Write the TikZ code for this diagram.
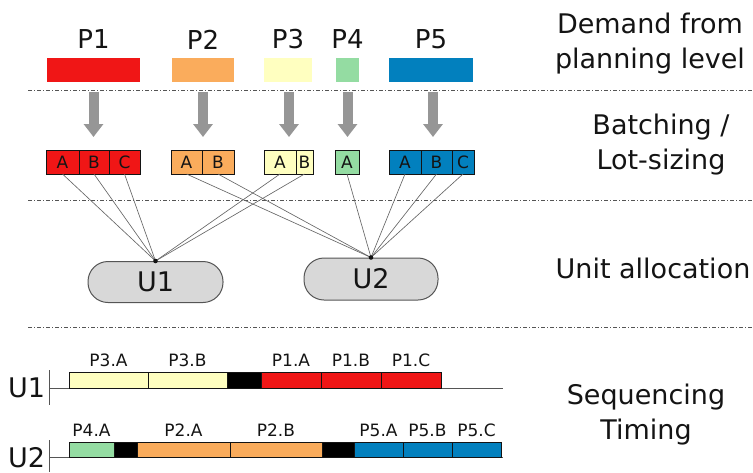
\documentclass[tikz,border=0pt]{standalone}
\usepackage{fontspec}
\setmainfont{DejaVu Sans}
\usetikzlibrary{arrows.meta,calc}

\definecolor{cPone}{RGB}{240,22,22}
\definecolor{cPtwo}{RGB}{250,172,92}
\definecolor{cPthree}{RGB}{255,255,192}
\definecolor{cPfour}{RGB}{148,220,162}
\definecolor{cPfive}{RGB}{2,128,190}
\definecolor{arrowgray}{RGB}{150,150,150}
\definecolor{unitfill}{RGB}{216,216,216}
\definecolor{edgegray}{RGB}{85,85,85}
\definecolor{inkdark}{RGB}{20,20,20}

\tikzset{
  demand/.style={rectangle, inner sep=0pt, outer sep=0pt, minimum height=24pt},
  plabel/.style={inner sep=0pt, text=inkdark, font=\fontsize{26}{26}\selectfont},
  cell/.style={rectangle, draw=inkdark, line width=0.8pt, inner sep=0pt, outer sep=0pt,
    minimum height=24pt, anchor=west, text=inkdark, font=\fontsize{17}{17}\selectfont},
  bigarrow/.style={draw=arrowgray, line width=10pt, -{Triangle[width=19pt,length=13pt]},
    shorten <=10pt, shorten >=13pt},
  separator/.style={draw=edgegray, line width=0.8pt, dash pattern=on 4pt off 2pt on 1pt off 2pt},
  link/.style={draw=edgegray!90, line width=0.65pt},
  unit/.style={rectangle, rounded corners=20pt, draw=edgegray, line width=1pt, fill=unitfill,
    minimum width=135pt, minimum height=41pt, inner sep=0pt, text=inkdark,
    font=\fontsize{27}{27}\selectfont},
  sidelabel/.style={align=center, text=inkdark, inner sep=0pt,
    font=\fontsize{27}{35}\selectfont},
  gbar/.style={rectangle, draw=inkdark, line width=0.7pt, inner sep=0pt, outer sep=0pt,
    anchor=west},
  glabel/.style={inner sep=0pt, text=inkdark, font=\fontsize{17}{17}\selectfont},
  unitname/.style={inner sep=0pt, text=inkdark, font=\fontsize{27}{27}\selectfont},
  axis/.style={draw=edgegray, line width=0.9pt}
}

\begin{document}
\begin{tikzpicture}[x=1pt,y=-1pt]
\useasboundingbox (0,0) rectangle (753,472);

% ---- demand from the planning level ----
\node[demand, fill=cPone,   minimum width=93pt] (d1) at (93.5,70) {};
\node[demand, fill=cPtwo,   minimum width=62pt] (d2) at (203,70) {};
\node[demand, fill=cPthree, minimum width=48pt] (d3) at (288,70) {};
\node[demand, fill=cPfour,  minimum width=23pt] (d4) at (347.5,70) {};
\node[demand, fill=cPfive,  minimum width=84pt] (d5) at (431,70) {};

\node[plabel] (p1) at ([yshift=18.5pt]d1.north) {P1};
\node[plabel] (p2) at ([yshift=18.5pt]d2.north) {P2};
\node[plabel] (p3) at ([yshift=18.5pt]d3.north) {P3};
\node[plabel] (p4) at ([yshift=18.5pt]d4.north) {P4};
\node[plabel] (p5) at ([yshift=18.5pt]d5.north) {P5};

% ---- section separators ----
\draw[separator] (28,90) -- (753,90);
\draw[separator] (28,200) -- (753,200);
\draw[separator] (28,327) -- (753,327);

% ---- batches ----
\node[cell, fill=cPone, minimum width=33pt] (b1a) at (46,162) {A};
\node[cell, fill=cPone, minimum width=30pt] (b1b) at (b1a.east) {B};
\node[cell, fill=cPone, minimum width=31pt] (b1c) at (b1b.east) {C};

\node[cell, fill=cPtwo, minimum width=31pt] (b2a) at (171,162) {A};
\node[cell, fill=cPtwo, minimum width=32pt] (b2b) at (b2a.east) {B};

\node[cell, fill=cPthree, minimum width=32pt] (b3a) at (264,162) {A};
\node[cell, fill=cPthree, minimum width=17pt] (b3b) at (b3a.east) {B};

\node[cell, fill=cPfour, minimum width=24pt] (b4a) at (335,162) {A};

\node[cell, fill=cPfive, minimum width=32pt] (b5a) at (389,162) {A};
\node[cell, fill=cPfive, minimum width=31pt] (b5b) at (b5a.east) {B};
\node[cell, fill=cPfive, minimum width=22pt] (b5c) at (b5b.east) {C};

% ---- batching arrows ----
\draw[bigarrow] (d1.south) -- (d1.south |- b1b.north);
\draw[bigarrow] (d2.south) -- (d2.south |- b2a.north);
\draw[bigarrow] ([xshift=1pt]d3.south) -- ([xshift=1pt]d3.south |- b3a.north);
\draw[bigarrow] (d4.south) -- (d4.south |- b4a.north);
\draw[bigarrow] ([xshift=2pt]d5.south) -- ([xshift=2pt]d5.south |- b5b.north);

% ---- units ----
\node[unit] (u1) at (155.5,282) {U1};
\node[unit, minimum width=134pt, minimum height=42pt] (u2) at (371,279) {U2};

% ---- allocation links ----
\foreach \b in {b1a,b1b,b1c,b3a,b3b}
  \draw[link] (\b.south) -- (u1.north);
\foreach \b in {b2a,b2b,b4a,b5a,b5b,b5c}
  \draw[link] (\b.south) -- (u2.north);
\fill[inkdark] (u1.north) circle (2.3pt);
\fill[inkdark] (u2.north) circle (2.3pt);

% ---- side captions ----
\node[sidelabel] (capA) at (650,44) {Demand from\\planning level};
\node[sidelabel] (capB) at (661,145) {Batching /\\Lot-sizing};
\node[sidelabel] (capC) at (653,268) {Unit allocation};
\node[sidelabel] (capD) at (646,415) {Sequencing\\Timing};

% ---- Gantt chart, unit 1 ----
\draw[axis] (49,370) -- (49,405);
\draw[axis] (49,388) -- (503,388);
\node[unitname] (g1) at (26.5,387.5) {U1};
\node[gbar, fill=cPthree, minimum width=79pt, minimum height=16pt] (s1) at (69,380) {};
\node[gbar, fill=cPthree, minimum width=79pt, minimum height=16pt] (s2) at (s1.east) {};
\node[gbar, fill=black,   minimum width=34pt, minimum height=16pt] (s3) at (s2.east) {};
\node[gbar, fill=cPone,   minimum width=60pt, minimum height=16pt] (s4) at (s3.east) {};
\node[gbar, fill=cPone,   minimum width=60pt, minimum height=16pt] (s5) at (s4.east) {};
\node[gbar, fill=cPone,   minimum width=60pt, minimum height=16pt] (s6) at (s5.east) {};
\node[glabel] (l1) at ([yshift=12pt]s1.north) {P3.A};
\node[glabel] (l2) at ([yshift=12pt]s2.north) {P3.B};
\node[glabel] (l4) at ([yshift=12pt]s4.north) {P1.A};
\node[glabel] (l5) at ([yshift=12pt]s5.north) {P1.B};
\node[glabel] (l6) at ([yshift=12pt]s6.north) {P1.C};

% ---- Gantt chart, unit 2 ----
\draw[axis] (49,440) -- (49,472);
\draw[axis] (49,457) -- (503,457);
\node[unitname] (g2) at (26.5,457.5) {U2};
\node[gbar, fill=cPfour,  minimum width=45pt, minimum height=15pt] (t1) at (69,449.5) {};
\node[gbar, fill=black,   minimum width=23pt, minimum height=15pt] (t2) at (t1.east) {};
\node[gbar, fill=cPtwo,   minimum width=93pt, minimum height=15pt] (t3) at (t2.east) {};
\node[gbar, fill=cPtwo,   minimum width=92pt, minimum height=15pt] (t4) at (t3.east) {};
\node[gbar, fill=black,   minimum width=32pt, minimum height=15pt] (t5) at (t4.east) {};
\node[gbar, fill=cPfive,  minimum width=49pt, minimum height=15pt] (t6) at (t5.east) {};
\node[gbar, fill=cPfive,  minimum width=49pt, minimum height=15pt] (t7) at (t6.east) {};
\node[gbar, fill=cPfive,  minimum width=49pt, minimum height=15pt] (t8) at (t7.east) {};
\node[glabel] (m1) at ([yshift=12pt]t1.north) {P4.A};
\node[glabel] (m3) at ([yshift=12pt]t3.north) {P2.A};
\node[glabel] (m4) at ([yshift=12pt]t4.north) {P2.B};
\node[glabel] (m6) at ([yshift=12pt]t6.north) {P5.A};
\node[glabel] (m7) at ([yshift=12pt]t7.north) {P5.B};
\node[glabel] (m8) at ([yshift=12pt]t8.north) {P5.C};
\end{tikzpicture}
\end{document}
